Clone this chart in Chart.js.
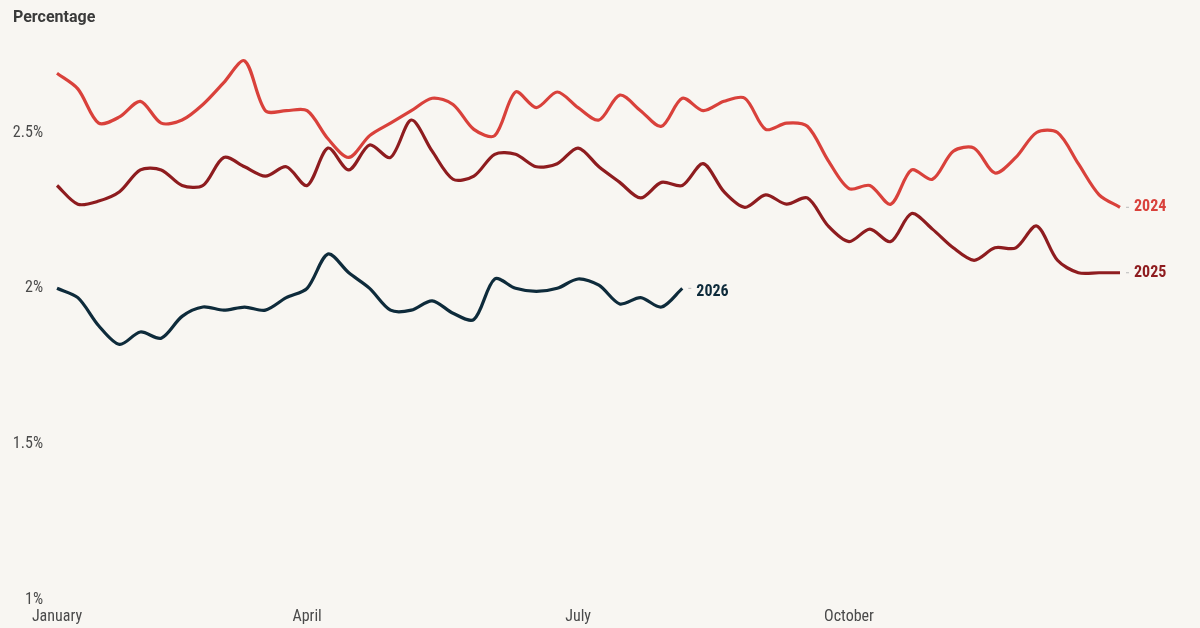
<!DOCTYPE html>
<html>
<head>
<meta charset="utf-8">
<script src="https://cdn.jsdelivr.net/npm/chart.js@4/dist/chart.umd.min.js"></script>
<style>
  html, body { margin: 0; padding: 0; background: #f8f6f2; }
  #wrap { position: relative; width: 1200px; height: 628px; }
  #title { position: absolute; left: 13px; top: 7px; font: bold 16px Roboto, sans-serif; color: #3a3a3a; }
</style>
</head>
<body>
<div id="wrap">
  <div id="title">Percentage</div>
  <canvas id="chart" width="1200" height="628"></canvas>
</div>
<script>
// weekly readings, week 1 .. 52
const weeks = Array.from({ length: 52 }, (_, i) => i + 1);

const rate2024 = [
  2.69, 2.64, 2.53, 2.55, 2.60, 2.53, 2.54, 2.59, 2.66, 2.73,
  2.57, 2.57, 2.57, 2.48, 2.42, 2.49, 2.53, 2.57, 2.61, 2.59,
  2.51, 2.49, 2.63, 2.58, 2.63, 2.58, 2.54, 2.62, 2.57, 2.52,
  2.61, 2.57, 2.60, 2.61, 2.51, 2.53, 2.52, 2.41, 2.32, 2.33,
  2.27, 2.38, 2.35, 2.44, 2.45, 2.37, 2.42, 2.50, 2.50, 2.40,
  2.30, 2.26
];

const rate2025 = [
  2.33, 2.27, 2.28, 2.31, 2.38, 2.38, 2.33, 2.33, 2.42, 2.39,
  2.36, 2.39, 2.33, 2.45, 2.38, 2.46, 2.42, 2.54, 2.44, 2.35,
  2.36, 2.43, 2.43, 2.39, 2.40, 2.45, 2.39, 2.34, 2.29, 2.34,
  2.33, 2.40, 2.31, 2.26, 2.30, 2.27, 2.29, 2.20, 2.15, 2.19,
  2.15, 2.24, 2.19, 2.13, 2.09, 2.13, 2.13, 2.20, 2.09, 2.05,
  2.05, 2.05
];

const rate2026 = [
  2.00, 1.97, 1.88, 1.82, 1.86, 1.84, 1.91, 1.94, 1.93, 1.94,
  1.93, 1.97, 2.00, 2.11, 2.05, 2.00, 1.93, 1.93, 1.96, 1.92,
  1.90, 2.03, 2.00, 1.99, 2.00, 2.03, 2.01, 1.95, 1.97, 1.94,
  2.00
];

const monthTickWeeks = [0, 12, 25, 38];
const monthLabels = ["January", "April", "July", "October"];
const yTicks = [1, 1.5, 2, 2.5];
const yTickLabels = ["1%", "1.5%", "2%", "2.5%"];

const seriesNames = ["2024", "2025", "2026"];
const seriesColors = ["#d9413b", "#8e1c1f", "#0e2b3b"];

const condensed = "'Roboto Condensed', 'Liberation Sans Narrow', 'DejaVu Sans Condensed', Roboto, sans-serif";

const endLabels = {
  id: "endLabels",
  afterDatasetsDraw(chart) {
    const ctx = chart.ctx;
    ctx.save();
    chart.data.datasets.forEach((ds, i) => {
      const meta = chart.getDatasetMeta(i);
      const last = meta.data[meta.data.length - 1];
      if (!last) return;
      ctx.strokeStyle = "#bbbbbb";
      ctx.lineWidth = 1;
      ctx.beginPath();
      ctx.moveTo(last.x + 6, last.y);
      ctx.lineTo(last.x + 9, last.y);
      ctx.stroke();
      ctx.fillStyle = ds.borderColor;
      ctx.font = "bold 16px " + condensed;
      ctx.textBaseline = "middle";
      ctx.textAlign = "left";
      ctx.fillText(ds.label, last.x + 14, last.y + (i === 2 ? 4 : 0));
    });
    ctx.restore();
  }
};

new Chart(document.getElementById("chart"), {
  type: "line",
  data: {
    labels: weeks,
    datasets: [rate2024, rate2025, rate2026].map((d, i) => ({
      label: seriesNames[i],
      data: d,
      borderColor: seriesColors[i],
      borderWidth: 3.2,
      pointRadius: 0,
      tension: 0.3,
      fill: false
    }))
  },
  options: {
    responsive: false,
    animation: false,
    layout: { padding: { top: 39, right: 80, bottom: 0, left: 0 } },
    plugins: {
      legend: { display: false },
      tooltip: { enabled: false }
    },
    scales: {
      x: {
        type: "category",
        offset: false,
        grid: { display: false, drawTicks: false },
        border: { display: false },
        afterBuildTicks(scale) {
          scale.ticks = monthTickWeeks.map(v => ({ value: v }));
        },
        afterFit(scale) { scale.height = 28; },
        ticks: {
          autoSkip: false,
          maxRotation: 0,
          padding: 7,
          color: "#4a4a4a",
          font: { family: condensed, size: 16 },
          callback: (v, idx) => monthLabels[idx]
        }
      },
      y: {
        min: 1,
        max: 2.8,
        grid: { display: false, drawTicks: false },
        border: { display: false },
        afterBuildTicks(scale) {
          scale.ticks = yTicks.map(v => ({ value: v }));
        },
        afterFit(scale) { scale.width = 57; },
        ticks: {
          padding: 14,
          color: "#4a4a4a",
          font: { family: condensed, size: 16 },
          callback: (v, idx) => yTickLabels[idx]
        }
      }
    }
  },
  plugins: [endLabels]
});
</script>
</body>
</html>
